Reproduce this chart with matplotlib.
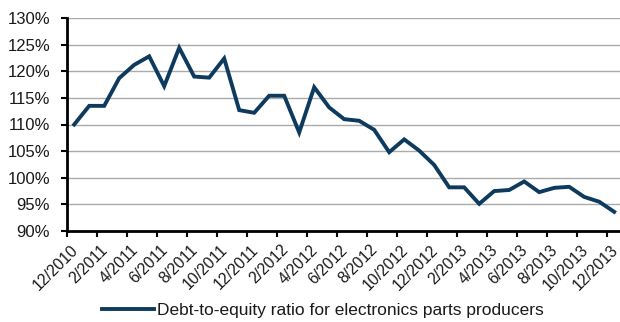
import matplotlib
matplotlib.use("Agg")
import matplotlib.pyplot as plt
from matplotlib.ticker import FixedLocator, NullFormatter
from matplotlib.transforms import ScaledTranslation

months = ["12/2010", "1/2011", "2/2011", "3/2011", "4/2011", "5/2011", "6/2011", "7/2011",
          "8/2011", "9/2011", "10/2011", "11/2011", "12/2011", "1/2012", "2/2012", "3/2012",
          "4/2012", "5/2012", "6/2012", "7/2012", "8/2012", "9/2012", "10/2012", "11/2012",
          "12/2012", "1/2013", "2/2013", "3/2013", "4/2013", "5/2013", "6/2013", "7/2013",
          "8/2013", "9/2013", "10/2013", "11/2013", "12/2013"]
ratio = [110.0, 113.5, 113.5, 118.7, 121.2, 122.8, 117.2, 124.4, 119.0, 118.8, 122.4, 112.7,
         112.2, 115.4, 115.4, 108.5, 117.0, 113.2, 111.0, 110.7, 109.0, 104.8, 107.2, 105.1,
         102.4, 98.2, 98.2, 95.1, 97.5, 97.7, 99.3, 97.3, 98.1, 98.3, 96.4, 95.5, 93.6]
series_name = "Debt-to-equity ratio for electronics parts producers"
yticks = [90, 95, 100, 105, 110, 115, 120, 125, 130]

plt.rcParams['font.family'] = ['Liberation Sans', 'DejaVu Sans']

fig = plt.figure(figsize=(6.2, 3.22), dpi=100)
ax = fig.add_axes([66.7 / 620, 1 - 231 / 322, 555 / 620, 213 / 322])

x = list(range(len(ratio)))
line, = ax.plot(x, ratio, color="#0E3A5E", lw=2.8, solid_joinstyle="miter", label=series_name)

ax.set_xlim(-0.5, len(ratio) - 0.5)
ax.set_ylim(90, 130)
ax.set_yticks(yticks)
ax.set_yticklabels([f"{v}%" for v in yticks], fontsize=12, color="#1a1a1a")
ax.yaxis.grid(True, color="#ABABAB", lw=1.0)
ax.set_axisbelow(True)

# major ticks at category boundaries every 2 categories, labels at category centers
ax.xaxis.set_major_locator(FixedLocator([i - 0.5 for i in range(0, len(ratio), 2)]))
ax.xaxis.set_major_formatter(NullFormatter())
lab_pos = list(range(0, len(ratio), 2))
ax.set_xticks(lab_pos, [months[i] for i in lab_pos], minor=True)
ax.tick_params(axis="x", which="minor", length=0, pad=8, labelsize=11.3, labelcolor="#1a1a1a")
shift = ScaledTranslation(-4 / 100, 0, fig.dpi_scale_trans)
for t in ax.get_xticklabels(minor=True):
    t.set_rotation(45)
    t.set_ha("right")
    t.set_rotation_mode("anchor")
    t.set_transform(t.get_transform() + shift)

ax.tick_params(axis="both", which="major", direction="out", length=4, width=1.5, color="black")
ax.tick_params(axis="y", pad=8)
for s in ["top", "right"]:
    ax.spines[s].set_visible(False)
for s in ["left", "bottom"]:
    ax.spines[s].set_linewidth(2)
    ax.spines[s].set_color("black")

fig.legend(handles=[line], loc="center", bbox_to_anchor=(323 / 620, 1 - 310 / 322), frameon=False,
           fontsize=12.5, handlelength=3.0, handletextpad=0.2, borderpad=0, labelcolor="#1a1a1a")

fig.savefig("out.png", dpi=100)
